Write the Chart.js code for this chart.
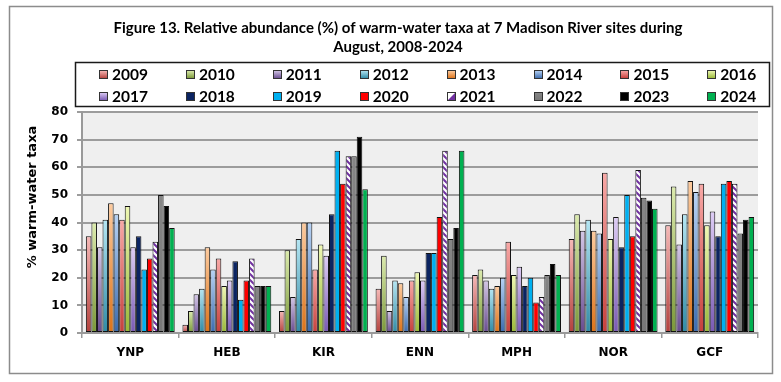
<!DOCTYPE html>
<html><head><meta charset="utf-8">
<script src="https://cdn.jsdelivr.net/npm/chart.js@4/dist/chart.umd.min.js"></script>
<style>html,body{margin:0;padding:0;background:#fff}#wrap{width:781px;height:382px}</style>
</head><body><div id="wrap"><canvas id="c" width="781" height="382"></canvas></div>
<script>
const sites = ['YNP','HEB','KIR','ENN','MPH','NOR','GCF'];
const years = ['2009','2010','2011','2012','2013','2014','2015','2016','2017','2018','2019','2020','2021','2022','2023','2024'];
const yTicks = [0,10,20,30,40,50,60,70,80];
const v2009 = [35, 3,  8, 16, 21, 34, 39];
const v2010 = [40, 8, 30, 28, 23, 43, 53];
const v2011 = [31,14, 13,  8, 19, 37, 32];
const v2012 = [41,16, 34, 19, 16, 41, 43];
const v2013 = [47,31, 40, 18, 17, 37, 55];
const v2014 = [43,23, 40, 13, 20, 36, 51];
const v2015 = [41,27, 23, 19, 33, 58, 54];
const v2016 = [46,17, 32, 22, 21, 34, 39];
const v2017 = [31,19, 28, 19, 24, 42, 44];
const v2018 = [35,26, 43, 29, 17, 31, 35];
const v2019 = [23,12, 66, 29, 20, 50, 54];
const v2020 = [27,19, 54, 42, 11, 35, 55];
const v2021 = [33,27, 64, 66, 13, 59, 54];
const v2022 = [50,17, 64, 34, 21, 49, 36];
const v2023 = [46,17, 71, 38, 25, 48, 41];
const v2024 = [38,17, 52, 66, 21, 45, 42];
const seriesValues = [v2009,v2010,v2011,v2012,v2013,v2014,v2015,v2016,v2017,v2018,v2019,v2020,v2021,v2022,v2023,v2024];

const styles = [
  ['#F6B9B7','#B3403C'],
  ['#DCEBAE','#7A9838'],
  ['#D4C7E6','#674A8F'],
  ['#B5E6F3','#2F8AA5'],
  ['#FDCB9F','#DC7218'],
  ['#B8D3F5','#3A6AAD'],
  ['#F8A9A7','#C63F3B'],
  ['#EFF8B4','#98B836'],
  ['#DECDF5','#7858B3'],
  ['#0B2461','#0B2461'],
  ['#00B0F0','#00B0F0'],
  ['#FF0000','#FF0000'],
  'hatch',
  ['#868686','#777777'],
  ['#000000','#000000'],
  ['#00B050','#00B050']
];

function makeHatch(){
  const c = document.createElement('canvas');
  c.width = 6; c.height = 6;
  const g = c.getContext('2d');
  g.fillStyle = '#ffffff'; g.fillRect(0,0,6,6);
  g.strokeStyle = '#7030A0'; g.lineWidth = 2;
  g.beginPath();
  g.moveTo(-1,-1); g.lineTo(7,7);
  g.moveTo(-4,2); g.lineTo(4,10);
  g.moveTo(2,-4); g.lineTo(10,4);
  g.stroke();
  return c;
}
const hatchCanvas = makeHatch();
let hatchPattern = null;

function fillFor(i, ctx2d, top, bottom){
  const s = styles[i];
  if (s === 'hatch') {
    if (!hatchPattern) hatchPattern = ctx2d.createPattern(hatchCanvas,'repeat');
    return hatchPattern;
  }
  if (s[0] === s[1]) return s[0];
  if (!isFinite(top) || !isFinite(bottom)) return s[1];
  const g = ctx2d.createLinearGradient(0, top, 0, bottom);
  g.addColorStop(0, s[0]);
  g.addColorStop(1, s[1]);
  return g;
}

const datasets = years.map((y, i) => ({
  label: y,
  data: seriesValues[i],
  backgroundColor: (ctx) => {
    const chart = ctx.chart;
    if (ctx.type !== 'data' || !chart.scales || !chart.scales.y) return Array.isArray(styles[i]) ? styles[i][1] : '#fff';
    const ys = chart.scales.y;
    const top = ys.getPixelForValue(ctx.raw);
    const bottom = ys.getPixelForValue(0);
    return fillFor(i, chart.ctx, top, Math.max(bottom, top + 1));
  },
  borderColor: '#111111',
  borderWidth: 1,
  borderSkipped: false,
  barPercentage: 1.0,
  categoryPercentage: 0.92
}));

const decor = {
  id: 'decor',
  beforeDraw(chart){
    const c = chart.ctx, a = chart.chartArea;
    c.save();
    c.fillStyle = '#ffffff';
    c.fillRect(0,0,chart.width,chart.height);
    c.strokeStyle = '#8c8c8c'; c.lineWidth = 1.5;
    c.strokeRect(9.5, 6.5, 763, 367);
    c.fillStyle = '#EFEFEF';
    c.fillRect(a.left, a.top, a.right - a.left, a.bottom - a.top);
    c.restore();
  },
  afterDraw(chart){
    const c = chart.ctx;
    c.save();
    c.translate(33, 197);
    c.rotate(-Math.PI/2);
    c.fillStyle = '#000';
    c.font = 'bold 13px "DejaVu Sans"';
    c.textAlign = 'center'; c.textBaseline = 'middle';
    c.fillText('% warm-water taxa', 0, 0);
    c.restore();
    c.save();
    c.strokeStyle = '#1a1a1a'; c.lineWidth = 1.5;
    c.strokeRect(75.5, 62.5, 694, 44);
    c.font = 'bold 15.5px Lato';
    c.textBaseline = 'middle'; c.textAlign = 'left';
    years.forEach((y, i) => {
      const col = i % 8, row = Math.floor(i / 8);
      const sx = 99 + col * 86.9, sy = 74 + row * 22;
      const bx = Math.round(sx) + 0.5, by = Math.round(sy - 4.5) + 0.5;
      if (styles[i] === 'hatch') {
        c.fillStyle = '#ffffff'; c.fillRect(bx, by, 8, 8);
        c.fillStyle = '#7030A0';
        c.beginPath(); c.moveTo(bx+8, by); c.lineTo(bx+8, by+8); c.lineTo(bx, by+8); c.closePath(); c.fill();
      } else {
        c.fillStyle = fillFor(i, c, by, by + 8);
        c.fillRect(bx, by, 8, 8);
      }
      c.strokeStyle = '#333'; c.lineWidth = 1;
      c.strokeRect(bx, by, 8, 8);
      c.fillStyle = '#000';
      c.fillText(y, sx + 13, sy + 1);
    });
    c.restore();
  }
};

new Chart(document.getElementById('c'), {
  type: 'bar',
  data: { labels: sites, datasets },
  plugins: [decor],
  options: {
    responsive: false,
    animation: false,
    devicePixelRatio: 1,
    layout: { padding: { left: 38, right: 23, top: 0, bottom: 19 } },
    plugins: {
      legend: { display: false },
      tooltip: { enabled: false },
      title: {
        display: true,
        text: ['Figure 13. Relative abundance (%) of warm-water taxa at 7 Madison River sites during', 'August, 2008-2024'],
        color: '#000',
        font: { family: 'Lato', weight: 'bold', size: 15, lineHeight: 1.27 },
        padding: { top: 18.5, bottom: 55.4 },
        fullSize: true
      }
    },
    scales: {
      x: {
        afterFit(s){ s.height = 30; },
        grid: { display: true, drawOnChartArea: false, drawTicks: true, tickLength: 5, color: '#999999', lineWidth: 1.5, offset: true },
        border: { display: true, color: '#999999', width: 2 },
        ticks: { color: '#000', padding: 8, font: { family: '"DejaVu Sans"', weight: 'bold', size: 12 } }
      },
      y: {
        min: 0, max: 80,
        afterFit(s){ s.width = 44; },
        afterBuildTicks(s){ s.ticks = yTicks.map(v => ({ value: v })); },
        grid: { display: true, drawOnChartArea: true, color: '#9c9c9c', lineWidth: 2, drawTicks: true, tickLength: 5 },
        border: { display: true, color: '#999999', width: 2 },
        ticks: { color: '#000', padding: 9, font: { family: '"DejaVu Sans"', weight: 'bold', size: 12 } }
      }
    }
  }
});
</script>
</body></html>
